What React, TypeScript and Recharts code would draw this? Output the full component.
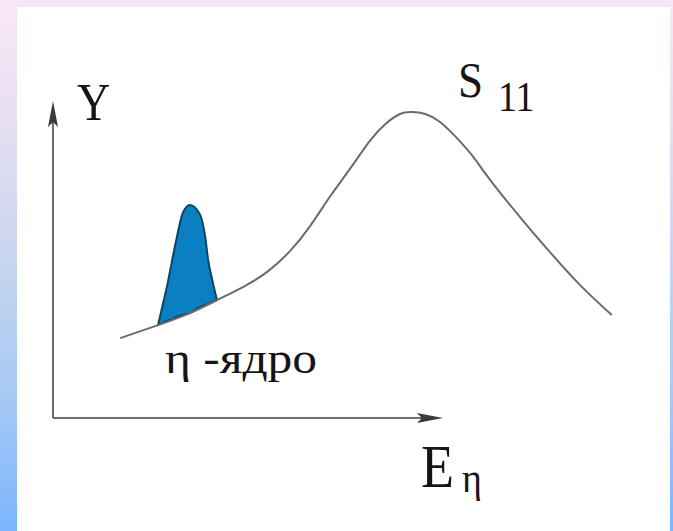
import React from "react"
import { ComposedChart, Line, Area, XAxis, YAxis, ReferenceLine, ReferenceDot } from "recharts"

// S11 yield curve, E in arbitrary units (0..100 across the plot)
const energy = [11.4, 17.8, 23.2, 27.8, 32.2, 36.3, 40.2, 43.6, 46.9, 50.3, 53.7, 56.3, 58.8, 60.8, 63.1, 65.6, 68.1, 70.7, 73.2, 75.8, 80.0, 84.2, 89.3, 94.7]
const yieldS11 = [25.2, 29.3, 33.1, 37.2, 41.3, 46.1, 52.7, 60.6, 69.7, 78.5, 87.4, 92.7, 95.9, 96.5, 95.9, 93.4, 89.0, 83.6, 77.3, 71.0, 61.5, 52.4, 42.0, 32.5]

// eta-nucleus peak, sitting on top of the S11 curve
const etaEnergy = [17.8, 18.6, 19.3, 20.2, 21.0, 22.0, 23.2, 24.9, 25.8, 26.3, 27.0, 27.8]
const etaTop = [29.3, 35.7, 41.3, 49.8, 57.1, 64.7, 67.2, 64.2, 57.1, 49.8, 43.5, 37.2]
const etaBase = [29.3, 30.0, 30.6, 31.2, 31.9, 32.5, 33.1, 35.0, 35.7, 36.0, 36.6, 37.2]

// axis extents (arrow tips)
const xAxisEnd = 66.1
const yAxisEnd = 100

type Row = { x: number; s11?: number; lo?: number; hi?: number }

const rowMap = new Map<number, Row>()
energy.forEach((x, i) => rowMap.set(x, { ...(rowMap.get(x) || { x }), s11: yieldS11[i] }))
etaEnergy.forEach((x, i) => rowMap.set(x, { ...(rowMap.get(x) || { x }), lo: etaBase[i], hi: etaTop[i] }))
const rows = Array.from(rowMap.values()).sort((a, b) => a.x - b.x)

const AXIS = "#6e6e6e"
const serif = "'Liberation Serif', 'DejaVu Serif', serif"

const ArrowUp = (p: any) => (
  <polygon points={`${p.cx},${p.cy} ${p.cx + 5},${p.cy + 26} ${p.cx},${p.cy + 21} ${p.cx - 5},${p.cy + 26}`} fill="#3a3a3a" />
)
const ArrowRight = (p: any) => (
  <polygon points={`${p.cx},${p.cy} ${p.cx - 26},${p.cy - 5} ${p.cx - 21},${p.cy} ${p.cx - 26},${p.cy + 5}`} fill="#3a3a3a" />
)

function Txt({ x, y, size, width, children }: { x: number; y: number; size: number; width?: number; children: React.ReactNode }) {
  return (
    <text
      transform={`translate(${x} ${y}) scale(1 1.13)`}
      fontFamily={serif}
      fontSize={size}
      fill="#151515"
      textLength={width}
      lengthAdjust={width ? "spacingAndGlyphs" : undefined}
    >
      {children}
    </text>
  )
}

export default function App() {
  return (
    <div
      style={{
        position: "absolute",
        left: 0,
        top: 0,
        width: 673,
        height: 531,
        overflow: "hidden",
        background: "linear-gradient(180deg, #fae8f6 0%, #e4def2 25%, #c6d5ee 50%, #a6c9f4 75%, #7cb5fd 100%)",
      }}
    >
      <div style={{ position: "absolute", left: 0, top: 0, width: 673, height: 7, background: "#f8e6f4" }} />
      <div style={{ position: "absolute", left: 17, top: 7, width: 653, height: 524, background: "#ffffff" }} />
      <div style={{ position: "absolute", left: 0, top: 0 }}>
        <ComposedChart width={673} height={531} data={rows} margin={{ top: 101, left: 53, right: 30, bottom: 113 }}>
          <XAxis type="number" dataKey="x" domain={[0, 100]} hide allowDataOverflow />
          <YAxis type="number" domain={[0, 100]} hide allowDataOverflow />
          <ReferenceLine segment={[{ x: 0, y: 0 }, { x: 0, y: yAxisEnd - 3 }]} stroke={AXIS} strokeWidth={2} ifOverflow="visible" />
          <ReferenceLine segment={[{ x: 0, y: 0 }, { x: xAxisEnd - 2, y: 0 }]} stroke={AXIS} strokeWidth={2} ifOverflow="visible" />
          <ReferenceDot x={0} y={yAxisEnd} r={0} shape={ArrowUp} ifOverflow="visible" />
          <ReferenceDot x={xAxisEnd} y={0} r={0} shape={ArrowRight} ifOverflow="visible" />
          <Line type="natural" dataKey="s11" stroke="#6b6b6b" strokeWidth={2} dot={false} connectNulls isAnimationActive={false} />
          <Area
            type="monotone"
            dataKey={(d: Row) => (d.lo != null && d.hi != null ? [d.lo, d.hi] : null)}
            fill="#0a7fc2"
            fillOpacity={1}
            stroke="#0b4466"
            strokeWidth={2}
            dot={false}
            activeDot={false}
            isAnimationActive={false}
          />
        </ComposedChart>
      </div>
      <svg width={673} height={531} style={{ position: "absolute", left: 0, top: 0, pointerEvents: "none" }}>
        <Txt x={77} y={120} size={46}>Y</Txt>
        <Txt x={458} y={97} size={45}>S</Txt>
        <Txt x={498} y={111} size={38}>11</Txt>
        <Txt x={165} y={373} size={40} width={152}>η -ядро</Txt>
        <Txt x={421} y={487} size={54}>E</Txt>
        <Txt x={462} y={492} size={38}>η</Txt>
      </svg>
    </div>
  )
}
